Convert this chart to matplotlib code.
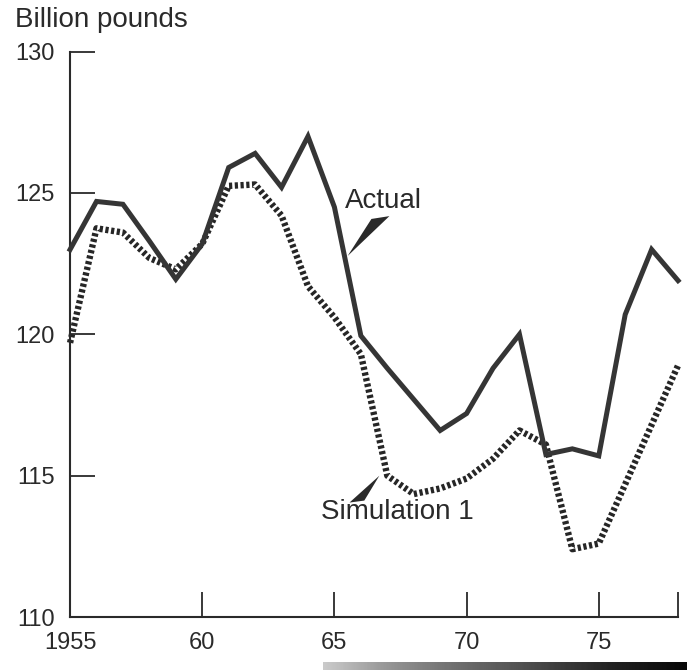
import matplotlib
matplotlib.use("Agg")
import matplotlib.pyplot as plt
import numpy as np

plt.rcParams['font.family'] = ['Liberation Sans', 'DejaVu Sans']

# data
years = list(range(1955, 1979))
actual = [123.0, 124.7, 124.6, 123.3, 121.95, 123.2, 125.9, 126.4, 125.2, 127.0,
          124.5, 119.95, 118.8, 117.7, 116.6, 117.2, 118.8, 120.0, 115.75, 115.95,
          115.7, 120.7, 123.0, 121.9]
simulation = [119.7, 123.75, 123.6, 122.7, 122.3, 123.2, 125.25, 125.3, 124.2, 121.7,
              120.6, 119.3, 115.0, 114.35, 114.55, 114.9, 115.6, 116.6, 116.1, 112.4,
              112.6, 114.7, 116.8, 118.9]

xticks = [1955, 1960, 1965, 1970, 1975, 1978]
xtick_labels = ['1955', '60', '65', '70', '75', '']
yticks = [110, 115, 120, 125, 130]

ink = '#2a2a2a'
line_col = '#353535'

fig = plt.figure(figsize=(6.87, 6.70), dpi=100)
ax = fig.add_axes([0.102, 0.079, 0.885, 0.844])

ax.plot(years, actual, color=line_col, lw=3.6, solid_joinstyle='miter',
        clip_on=False, zorder=3)
ax.plot(years, simulation, color='#262626', lw=4.6, linestyle=(0, (0.5, 0.4)),
        dash_capstyle='butt', clip_on=False, zorder=2)

ax.set_xlim(1955, 1978)
ax.set_ylim(110, 130)
ax.set_xticks(xticks)
ax.set_xticklabels(xtick_labels)
ax.set_yticks(yticks)

for s in ['top', 'right']:
    ax.spines[s].set_visible(False)
for s in ['left', 'bottom']:
    ax.spines[s].set_linewidth(1.5)
    ax.spines[s].set_color(ink)

ax.tick_params(axis='both', direction='in', length=18, width=1.3, color=ink,
               labelsize=17, labelcolor=ink)
ax.tick_params(axis='x', pad=11)
ax.tick_params(axis='y', pad=11)

fig.text(0.022, 0.97, 'Billion pounds', fontsize=20, color=ink, va='center', ha='left')

# labels with wedge pointers
ax.text(1965.4, 124.7, 'Actual', fontsize=20, color=ink, va='center', ha='left')
tx = 1965.38
ty = np.interp(tx, years, actual)
tx += 0.12
ax.fill([tx, tx + 0.9, tx + 1.58], [ty, ty + 1.31, ty + 1.41], color=ink, lw=0, zorder=4)

ax.text(1964.5, 113.7, 'Simulation 1', fontsize=20, color=ink, va='center', ha='left')
sx = 1967
sy = np.interp(sx, years, simulation)
sx -= 0.3
ax.fill([sx, sx - 1.13, sx - 0.57], [sy, sy - 0.95, sy - 0.88], color=ink, lw=0, zorder=4)

# dark page-edge strip at the bottom of the scan
bar = fig.add_axes([0.47, 0.0, 0.53, 0.012])
bar.imshow(np.linspace(0.1, 0.95, 200)[None, :] ** 0.5, aspect='auto', cmap='Greys',
           vmin=0, vmax=1)
bar.axis('off')

fig.savefig('out.png', dpi=100, facecolor='white')
